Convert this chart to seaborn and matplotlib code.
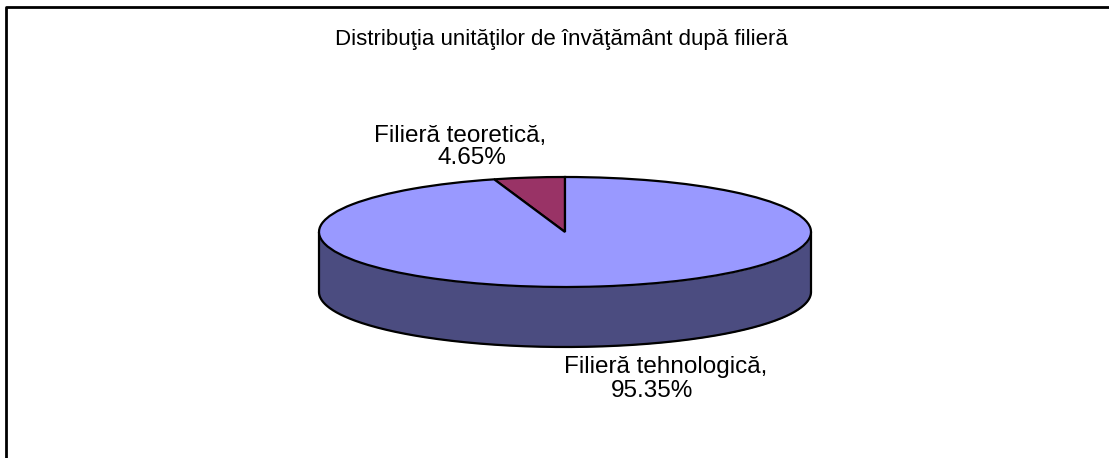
import numpy as np
import matplotlib
matplotlib.use("Agg")
import matplotlib.pyplot as plt
from matplotlib.lines import Line2D
import seaborn as sns

# date
categorii = ["Filieră teoretică", "Filieră tehnologică"]
procente = [4.65, 95.35]
culori_sus = ["#993366", "#9999FF"]
culoare_lateral = "#4B4C80"
titlu = "Distribuţia unităţilor de învăţământ după filieră"

sns.set_theme(style="white")
plt.rcParams["font.family"] = ["Liberation Sans", "DejaVu Sans"]

W, H = 1109, 458
fig = plt.figure(figsize=(W / 100, H / 100), dpi=100)

# ramă (doar stânga şi sus sunt vizibile)
fig.add_artist(Line2D([6 / W, 6 / W, 1.0], [0.0, 1 - 7 / H, 1 - 7 / H],
                      transform=fig.transFigure, color="black", lw=2))

fig.text(561 / W, 1 - 40 / H, titlu, ha="center", va="center", fontsize=16, color="black")

# axe pentru plăcinta eliptică
rx, ry = 246, 55          # raze in pixeli
cx, cy = 565, H - 232     # centru (de jos)
L, M = 1.2, 2.5
aw, ah = 2 * L * rx, 2 * M * ry
ax = fig.add_axes([(cx - aw / 2) / W, (cy - ah / 2) / H, aw / W, ah / H])

adancime = 60 / ry

# partea laterală (faţa)
t = np.linspace(np.pi, 2 * np.pi, 300)
xs, ys = np.cos(t), np.sin(t)
ax.fill_between(xs, ys, ys - adancime, color=culoare_lateral, lw=0, zorder=1)
ax.plot(xs, ys - adancime, color="black", lw=1.6, zorder=2)
ax.plot([-1, -1], [0, -adancime], color="black", lw=1.6, zorder=2)
ax.plot([1, 1], [0, -adancime], color="black", lw=1.6, zorder=2)

ax.pie(procente, colors=culori_sus, startangle=90, counterclock=True,
       wedgeprops={"edgecolor": "black", "linewidth": 1.6, "zorder": 3})
ax.set_aspect("auto")
ax.set_xlim(-L, L)
ax.set_ylim(-M, M)
ax.axis("off")

# etichete (două rânduri, poziţionate separat)
pozitii = [((460, 136), (472, 158)), ((666, 367), (652, 391))]
for nume, p, (p1, p2) in zip(categorii, procente, pozitii):
    fig.text(p1[0] / W, 1 - p1[1] / H, f"{nume},", ha="center", va="center",
             fontsize=17.5, color="black")
    fig.text(p2[0] / W, 1 - p2[1] / H, f"{p:.2f}%", ha="center", va="center",
             fontsize=17.5, color="black")

fig.savefig("out.png", dpi=100, facecolor="white")
